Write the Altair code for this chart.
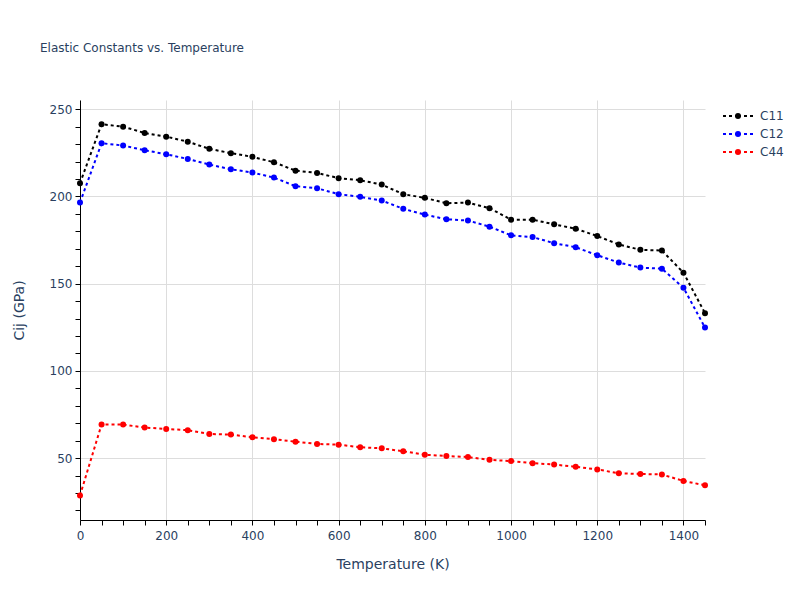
import altair as alt
import pandas as pd

temps = list(range(0, 1451, 50))
c11 = [207.6, 241.4, 240.0, 236.4, 234.3, 231.4, 227.3, 224.8, 222.7, 219.6,
       214.8, 213.5, 210.5, 209.3, 206.8, 201.3, 199.2, 196.1, 196.5, 193.3,
       186.7, 186.7, 184.0, 181.5, 177.3, 172.5, 169.4, 169.0, 156.3, 133.1]
c12 = [196.5, 230.5, 229.2, 226.5, 224.2, 221.5, 218.3, 215.6, 213.7, 210.8,
       205.9, 204.7, 201.3, 199.8, 197.7, 192.9, 189.6, 186.9, 186.2, 182.7,
       177.7, 176.7, 173.2, 170.9, 166.3, 162.1, 159.2, 158.6, 147.7, 124.8]
c44 = [28.6, 69.2, 69.2, 67.5, 66.7, 66.0, 63.8, 63.5, 61.9, 60.8,
       59.4, 58.1, 57.7, 56.2, 55.6, 53.9, 51.9, 51.2, 50.6, 49.0,
       48.3, 47.1, 46.3, 45.0, 43.5, 41.3, 40.9, 40.6, 36.9, 34.4]
series = ["C11", "C12", "C44"]
colors = ["#000000", "#0000ff", "#ff0000"]

rows = []
for name, vals in zip(series, [c11, c12, c44]):
    for t, v in zip(temps, vals):
        rows.append({"T": t, "v": v, "s": name})
df = pd.DataFrame(rows)

FONT = "DejaVu Sans"
TXT = "#2a3f5f"

x_enc = alt.X("T:Q", title="Temperature (K)",
              scale=alt.Scale(domain=[0, 1450], nice=False, zero=False),
              axis=alt.Axis(values=list(range(0, 1451, 50)), format="d", labelFlush=False,
                            labelExpr="datum.value % 200 === 0 ? datum.label : ''",
                            gridOpacity={"condition": {"test": "datum.value % 200 === 0", "value": 1}, "value": 0},
                            labelPadding=5, titlePadding=16))
y_enc = alt.Y("v:Q", title="Cij (GPa)",
              scale=alt.Scale(domain=[14.5, 255.3], nice=False, zero=False),
              axis=alt.Axis(values=list(range(20, 251, 10)), format="d", labelFlush=False,
                            labelExpr="datum.value % 50 === 0 ? datum.label : ''",
                            gridOpacity={"condition": {"test": "datum.value % 50 === 0", "value": 1}, "value": 0},
                            labelPadding=3, titlePadding=23))

# legend glyph: dotted segment (3px on / 3px off) with a dot in the middle
glyph = ("M-1.732,0L-1.386,0M-1.039,0L-0.693,0M-0.346,0L0.346,0M0.693,0L1.039,0"
         "M1.386,0L1.732,0"
         "M-0.23,0A0.23,0.23,0,1,0,0.23,0A0.23,0.23,0,1,0,-0.23,0Z")
sc = alt.Scale(domain=series, range=colors)
leg = alt.Legend(title=None, orient="none", legendX=648, legendY=6, padding=0,
                 symbolType=glyph, symbolSize=300, symbolStrokeWidth=2,
                 labelOffset=12, labelFontSize=12, labelColor=TXT, labelFont=FONT,
                 rowPadding=2)

lines = alt.Chart(df).mark_line(strokeDash=[3, 3], strokeWidth=2).encode(
    x=x_enc, y=y_enc,
    stroke=alt.Stroke("s:N", scale=sc, legend=leg),
)
points = alt.Chart(df).mark_point(filled=True, size=36, opacity=1, strokeWidth=0).encode(
    x=x_enc, y=y_enc,
    fill=alt.Fill("s:N", scale=sc, legend=leg),
)

chart = alt.layer(lines, points).properties(
    width=625, height=420,
    title=alt.TitleParams("Elastic Constants vs. Temperature", anchor="start", frame="group",
                          dx=-40, offset=36, baseline="alphabetic", fontSize=12,
                          fontWeight="normal", color=TXT, font=FONT),
    autosize=alt.AutoSizeParams(type="none"),
    padding={"left": 72, "top": 92, "right": 84, "bottom": 64},
).configure_view(stroke=None).configure_axis(
    domainColor="#000000", tickColor="#000000", tickSize=5, domainWidth=1,
    gridColor="#dddddd", labelColor=TXT, labelFontSize=12, labelFont=FONT,
    titleColor=TXT, titleFontSize=14, titleFont=FONT, titleFontWeight="normal",
)

chart.save("out.html", embed_options={"renderer": "svg", "actions": False})
